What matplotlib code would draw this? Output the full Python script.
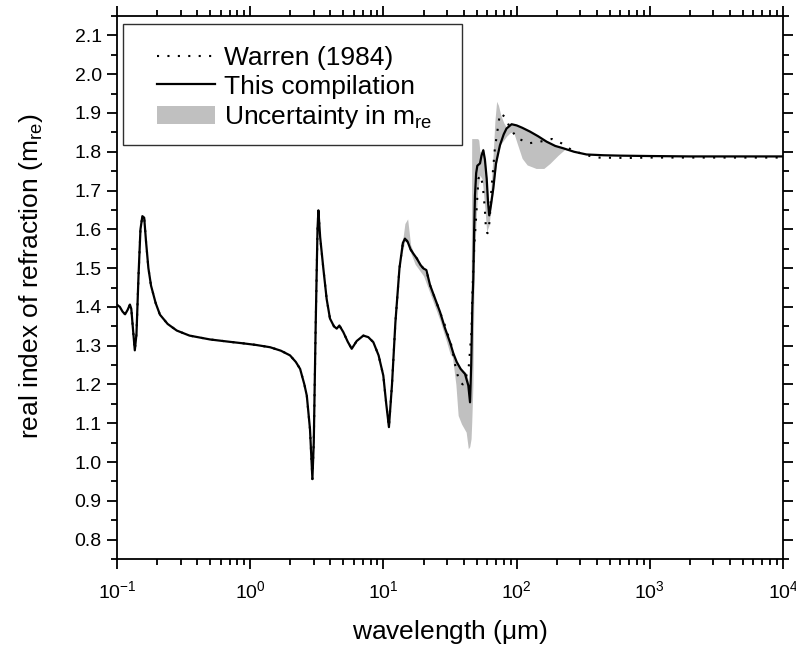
import numpy as np
import matplotlib.pyplot as plt
from matplotlib.patches import Rectangle
from matplotlib.ticker import MultipleLocator, LogLocator, NullFormatter

plt.rcParams['font.family'] = ['Liberation Sans', 'DejaVu Sans']
plt.rcParams['mathtext.fontset'] = 'custom'
plt.rcParams['mathtext.rm'] = 'Liberation Sans'
plt.rcParams['mathtext.it'] = 'Liberation Sans'
plt.rcParams['axes.unicode_minus'] = False

# this compilation
wl = [0.100, 0.105, 0.110, 0.115, 0.120, 0.125, 0.128, 0.132, 0.136, 0.140,
      0.145, 0.150, 0.155, 0.160, 0.165, 0.172, 0.180, 0.195, 0.210, 0.240,
      0.281, 0.35, 0.50, 0.70, 0.887, 1.10, 1.41, 1.70, 1.99, 2.20,
      2.37, 2.55, 2.66, 2.81, 2.93, 3.00, 3.10, 3.20, 3.25, 3.35,
      3.54, 3.75, 3.97, 4.25, 4.46, 4.67, 5.0, 5.4, 5.78, 6.3,
      7.07, 7.7, 8.4, 9.2, 9.98, 10.5, 11.0, 11.6, 12.3, 13.2,
      14.0, 14.5, 15.2, 16.0, 16.8, 17.8, 19.0, 20.0, 21.0, 22.4,
      24.5, 26.6, 29.0, 31.6, 33.5, 35.5, 38.0, 41.0, 43.4, 44.7,
      45.6, 46.5, 47.3, 48.0, 48.7, 49.7, 50.7, 53.1, 54.5, 56.2,
      57.8, 59.6, 61.0, 62.3, 64.0, 66.8, 70.0, 75.0, 80.0, 84.0,
      91.7, 100, 110, 126, 145, 168, 195, 224, 270, 335,
      450, 597, 1000, 2000, 5000, 10000]
m_re = [1.405, 1.400, 1.388, 1.381, 1.392, 1.406, 1.395, 1.340, 1.288, 1.330,
        1.480, 1.600, 1.634, 1.630, 1.570, 1.500, 1.455, 1.410, 1.380, 1.356,
        1.339, 1.326, 1.316, 1.310, 1.306, 1.302, 1.296, 1.287, 1.275, 1.258,
        1.240, 1.200, 1.171, 1.085, 0.956, 1.050, 1.350, 1.600, 1.649, 1.580,
        1.499, 1.420, 1.370, 1.350, 1.344, 1.352, 1.335, 1.310, 1.292, 1.312,
        1.326, 1.322, 1.309, 1.275, 1.223, 1.150, 1.090, 1.200, 1.360, 1.500,
        1.565, 1.576, 1.568, 1.548, 1.537, 1.525, 1.508, 1.499, 1.495, 1.456,
        1.420, 1.387, 1.345, 1.309, 1.280, 1.258, 1.240, 1.227, 1.197, 1.154,
        1.250, 1.400, 1.473, 1.600, 1.688, 1.745, 1.764, 1.770, 1.790, 1.804,
        1.780, 1.731, 1.670, 1.636, 1.660, 1.705, 1.770, 1.817, 1.845, 1.860,
        1.871, 1.868, 1.862, 1.852, 1.840, 1.826, 1.815, 1.809, 1.800, 1.793,
        1.791, 1.790, 1.789, 1.788, 1.788, 1.788]

# Warren (1984)
wl_w = [0.100, 0.105, 0.110, 0.115, 0.120, 0.125, 0.128, 0.132, 0.136, 0.140,
        0.145, 0.150, 0.155, 0.160, 0.165, 0.172, 0.180, 0.195, 0.210, 0.240,
        0.281, 0.35, 0.50, 0.70, 0.887, 1.10, 1.41, 1.70, 1.99, 2.20,
        2.37, 2.55, 2.66, 2.81, 2.93, 3.00, 3.10, 3.20, 3.25, 3.35,
        3.54, 3.75, 3.97, 4.25, 4.46, 4.67, 5.0, 5.4, 5.78, 6.3,
        7.07, 7.7, 8.4, 9.2, 9.98, 10.5, 11.0, 11.6, 12.3, 13.2,
        14.0, 14.5, 15.2, 16.0, 16.8, 17.8, 19.0, 20.0, 21.0, 22.4,
        24.5, 26.6, 29.0, 30.7, 32.6, 35.1, 37.3, 39.5, 41.7, 43.8,
        45.8, 46.5, 48.1, 49.6, 51.7, 53.5, 55.7, 57.7, 59.0, 60.5,
        62.7, 64.7, 68.7, 75.0, 82.0, 89.5, 101, 124, 150, 184,
        217, 255, 318, 400, 700, 1000, 2000, 5000, 10000]
m_w = [1.405, 1.400, 1.388, 1.381, 1.392, 1.406, 1.395, 1.340, 1.288, 1.330,
       1.480, 1.600, 1.634, 1.630, 1.570, 1.500, 1.455, 1.410, 1.380, 1.356,
       1.339, 1.326, 1.316, 1.310, 1.306, 1.302, 1.296, 1.287, 1.275, 1.258,
       1.240, 1.200, 1.171, 1.085, 0.956, 1.050, 1.350, 1.600, 1.649, 1.580,
       1.499, 1.420, 1.370, 1.350, 1.344, 1.352, 1.335, 1.310, 1.292, 1.312,
       1.326, 1.322, 1.309, 1.275, 1.223, 1.150, 1.090, 1.200, 1.360, 1.500,
       1.565, 1.576, 1.568, 1.548, 1.537, 1.525, 1.508, 1.499, 1.495, 1.456,
       1.420, 1.387, 1.352, 1.325, 1.298, 1.238, 1.207, 1.200, 1.219, 1.249,
       1.336, 1.430, 1.559, 1.628, 1.731, 1.740, 1.714, 1.654, 1.594, 1.590,
       1.620, 1.705, 1.809, 1.899, 1.890, 1.860, 1.835, 1.822, 1.826, 1.833,
       1.822, 1.806, 1.793, 1.785, 1.784, 1.785, 1.785, 1.785, 1.785]

# uncertainty band
wl_u = [13.5, 14.5, 15.2, 16.0, 17.3, 20.0, 22.4, 26.6, 29.8, 31.6,
        33.0, 35.0, 36.4, 38.6, 41.8, 43.4, 44.5, 45.0, 45.5, 46.0,
        47.0, 48.0, 49.6, 51.0, 52.0, 53.0, 55.0, 56.2, 57.8, 59.6,
        62.0, 64.0, 66.8, 68.7, 70.8, 73.0, 76.0, 80.0, 84.0, 90.0,
        95.0, 100, 110, 120, 140, 160, 178, 205, 230, 250]
m_lo = [1.525, 1.570, 1.565, 1.540, 1.510, 1.480, 1.435, 1.365, 1.310, 1.280,
        1.270, 1.200, 1.120, 1.098, 1.077, 1.034, 1.040, 1.050, 1.060, 1.100,
        1.200, 1.500, 1.620, 1.700, 1.720, 1.740, 1.730, 1.700, 1.654, 1.594,
        1.610, 1.650, 1.700, 1.740, 1.770, 1.800, 1.820, 1.830, 1.840, 1.850,
        1.850, 1.826, 1.783, 1.766, 1.757, 1.757, 1.770, 1.791, 1.806, 1.804]
m_hi = [1.535, 1.615, 1.627, 1.560, 1.530, 1.500, 1.456, 1.387, 1.330, 1.309,
        1.290, 1.262, 1.250, 1.240, 1.230, 1.210, 1.190, 1.200, 1.300, 1.834,
        1.834, 1.834, 1.834, 1.834, 1.830, 1.800, 1.800, 1.810, 1.785, 1.735,
        1.640, 1.700, 1.800, 1.880, 1.930, 1.920, 1.895, 1.875, 1.862, 1.870,
        1.870, 1.868, 1.862, 1.855, 1.842, 1.830, 1.822, 1.813, 1.809, 1.806]

fig = plt.figure(figsize=(7.96, 6.49), dpi=100)
ax = fig.add_axes([0.147, 0.1387, 0.8367, 0.8366])

ax.fill_between(wl_u, m_lo, m_hi, color='#c0c0c0', linewidth=0, label='Uncertainty in m$_{\\mathregular{re}}$')
ax.plot(wl_w, m_w, color='black', linewidth=1.5, linestyle=(0, (1, 4)), label='Warren (1984)')
ax.plot(wl, m_re, color='black', linewidth=1.6, label='This compilation')

ax.set_xscale('log')
ax.set_xlim(0.1, 1e4)
ax.set_ylim(0.75, 2.15)
ax.yaxis.set_minor_locator(MultipleLocator(0.05))
ax.xaxis.set_major_locator(LogLocator(base=10, numticks=10))
ax.xaxis.set_minor_locator(LogLocator(base=10, subs=np.arange(2, 10), numticks=20))
ax.xaxis.set_minor_formatter(NullFormatter())
yt = np.arange(0.8, 2.11, 0.1)
ax.set_yticks(yt)
ax.set_yticklabels(['%.1f' % v for v in yt])

ax.tick_params(which='both', direction='out', top=True, right=True, width=1.3, labelsize=14)
ax.tick_params(which='major', length=7.5)
ax.tick_params(which='minor', length=4.5)
ax.tick_params(axis='x', pad=8)
for s in ax.spines.values():
    s.set_linewidth(1.3)

ax.set_xlabel('wavelength ($\\mathregular{\\mu}$m)', fontsize=19, labelpad=11)
ax.set_ylabel('real index of refraction (m$_{\\mathregular{re}}$)', fontsize=19)
ax.yaxis.set_label_coords(-0.108, 0.521)

# legend: own frame, entries without frame
ax.add_patch(Rectangle((0.009, 0.762), 0.509, 0.223, transform=ax.transAxes,
                       facecolor='white', edgecolor='#303030', linewidth=1.0, zorder=4))
h, l = ax.get_legend_handles_labels()
order = [1, 2, 0]
leg = ax.legend([h[i] for i in order], [l[i] for i in order], loc='upper left',
                fontsize=19, handlelength=2.2, handletextpad=0.35, frameon=False,
                borderpad=0, borderaxespad=0, labelspacing=0.18,
                bbox_to_anchor=(0.06, 0.945))
leg.set_zorder(5)

fig.savefig('out.png', dpi=100)
